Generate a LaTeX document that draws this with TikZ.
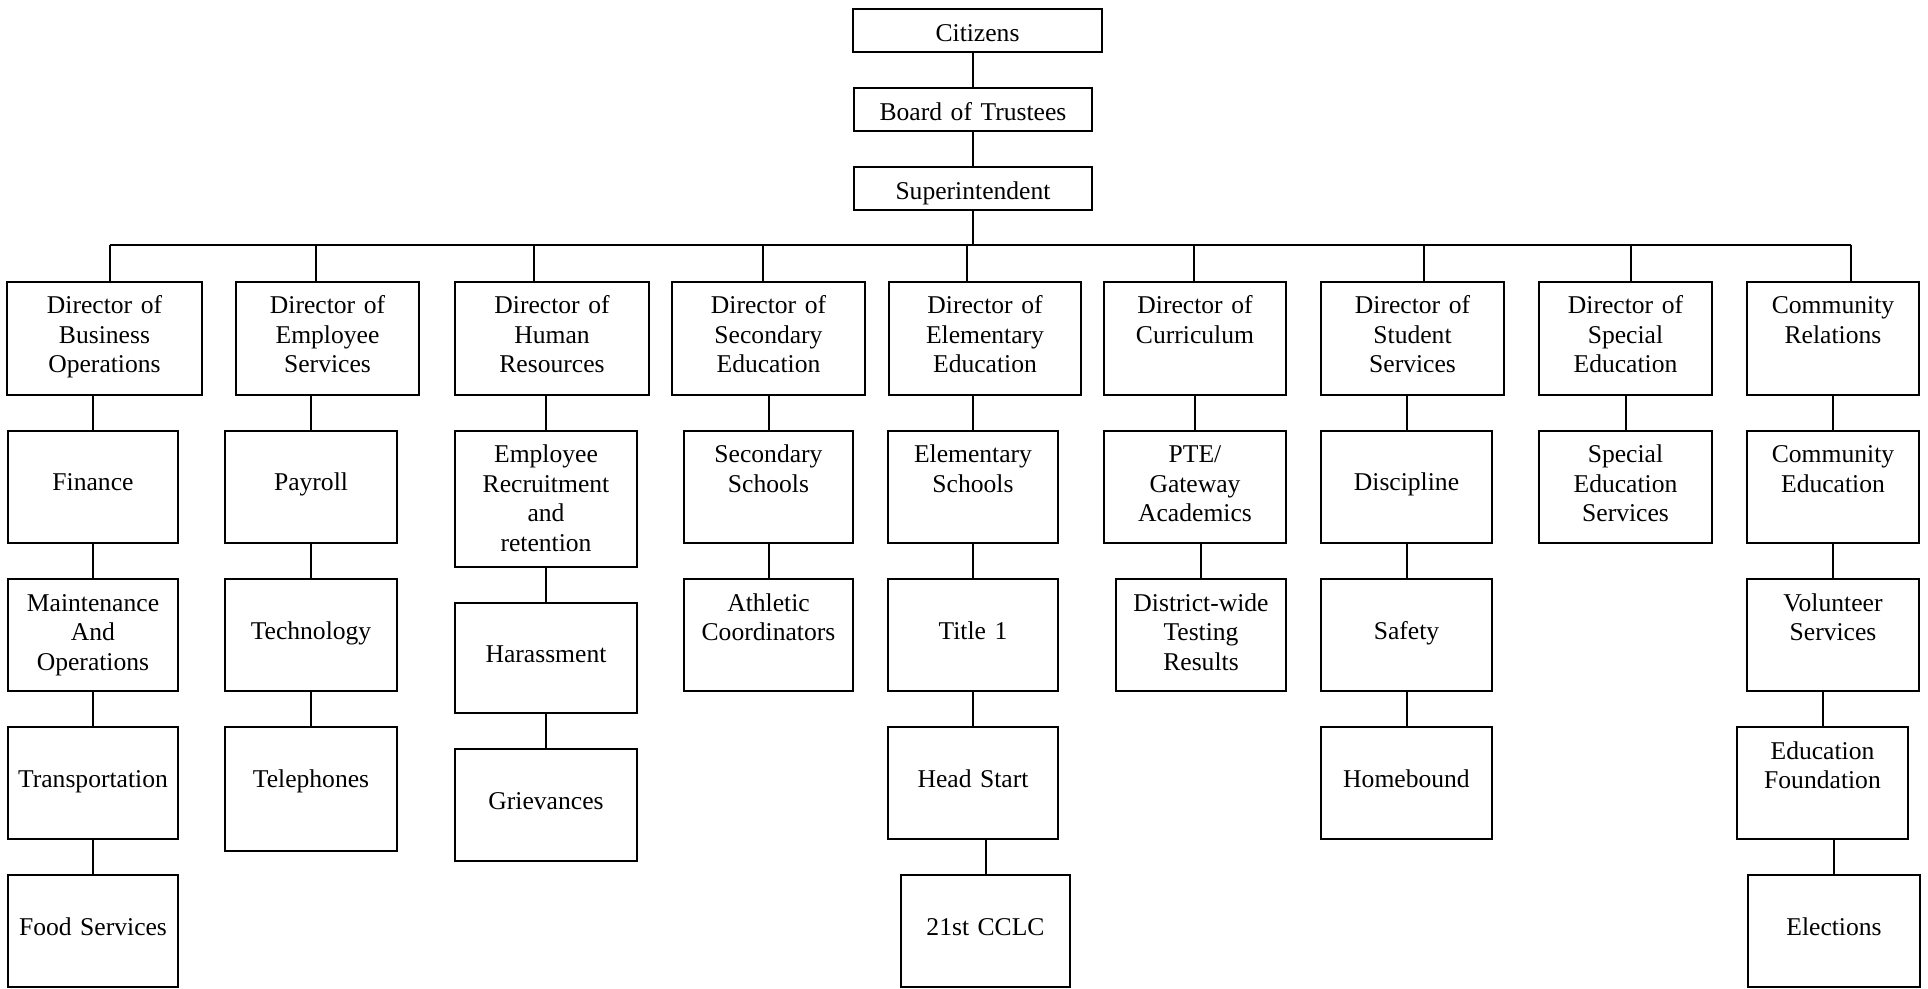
\documentclass[tikz,border=0pt]{standalone}
\usepackage{fontspec}
\setmainfont{Liberation Serif}
\usetikzlibrary{positioning}

\begin{document}
\begin{tikzpicture}[
  x=0.5pt,y=-0.5pt,
  node distance=18pt,
  unit/.style={draw,line width=1pt,align=center,inner xsep=2pt,inner ysep=0pt,
    outer sep=0pt,font=\fontsize{12.8}{14.75}\selectfont},
  topbox/.style={unit,text width=#1,text height=16.5pt,text depth=5pt},
  dir/.style={unit,text width=#1,text height=16pt,text depth=40.5pt},
  tall/.style={unit,text width=#1,text height=16pt,text depth=40pt},
  one/.style={unit,text width=#1,text height=30pt,text depth=26pt},
  link/.style={line width=1pt}
]
  \useasboundingbox (0,0) rectangle (1928,989);

  % top of the chart
  \node[topbox=120.5pt] (citizens) at (977.5,30.5) {Citizens};
  \node[topbox=115pt,below=of citizens,xshift=-2.25pt] (board) {Board of Trustees};
  \node[topbox=115pt,below=of board] (super) {Superintendent};

  % directors
  \node[dir=93.5pt,anchor=north] (d1) at (104.5,282) {Director of\\Business\\Operations};
  \node[dir=87.5pt,anchor=north] (d2) at (327.5,282) {Director of\\Employee\\Services};
  \node[dir=93pt,anchor=north] (d3) at (552,282) {Director of\\Human\\Resources};
  \node[dir=92.5pt,anchor=north] (d4) at (768.5,282) {Director of\\Secondary\\Education};
  \node[dir=92pt,anchor=north] (d5) at (985,282) {Director of\\Elementary\\Education};
  \node[dir=87pt,anchor=north] (d6) at (1195,282) {Director of\\Curriculum};
  \node[dir=87.5pt,anchor=north] (d7) at (1412.5,282) {Director of\\Student\\Services};
  \node[dir=82.5pt,anchor=north] (d8) at (1625.5,282) {Director of\\Special\\Education};
  \node[dir=82pt,anchor=north] (d9) at (1833,282) {Community\\Relations};

  % business operations
  \node[one=81pt,below=of d1,xshift=-5.75pt] (finance) {Finance};
  \node[tall=81pt,below=of finance] (upkeep) {Maintenance\\And\\Operations};
  \node[one=81pt,below=of upkeep] (transport) {Transportation};
  \node[one=81pt,below=of transport] (food) {Food Services};
  % employee services
  \node[one=82pt,below=of d2,xshift=-8.25pt] (payroll) {Payroll};
  \node[one=82pt,below=of payroll] (tech) {Technology};
  \node[one=82pt,below=of tech,text depth=32pt] (phones) {Telephones};
  % human resources
  \node[tall=87pt,below=of d3,xshift=-3pt,text depth=52pt] (recruit) {Employee\\Recruitment\\and\\retention};
  \node[one=87pt,below=of recruit,text height=29.5pt,text depth=25.5pt] (harass) {Harassment};
  \node[one=87pt,below=of harass] (grieve) {Grievances};
  % secondary education
  \node[tall=80.5pt,below=of d4] (secschools) {Secondary\\Schools};
  \node[tall=80.5pt,below=of secschools] (athletic) {Athletic\\Coordinators};
  % elementary education
  \node[tall=81pt,below=of d5,xshift=-6pt] (elemschools) {Elementary\\Schools};
  \node[one=81pt,below=of elemschools] (title) {Title 1};
  \node[one=81pt,below=of title] (headstart) {Head Start};
  \node[one=80.5pt,below=of headstart,xshift=6.25pt] (cclc) {21st CCLC};
  % curriculum
  \node[tall=87pt,below=of d6] (gateway) {PTE/\\Gateway\\Academics};
  \node[tall=81pt,below=of gateway,xshift=3pt] (testing) {District-wide\\Testing\\Results};
  % student services
  \node[one=81.5pt,below=of d7,xshift=-3pt] (discipline) {Discipline};
  \node[one=81.5pt,below=of discipline] (safety) {Safety};
  \node[one=81.5pt,below=of safety] (homebound) {Homebound};
  % special education
  \node[tall=82.5pt,below=of d8] (spedservices) {Special\\Education\\Services};
  % community relations
  \node[tall=82pt,below=of d9] (commedu) {Community\\Education};
  \node[tall=82pt,below=of commedu] (volunteer) {Volunteer\\Services};
  \node[tall=81.5pt,below=of volunteer,xshift=-5.25pt] (foundation) {Education\\Foundation};
  \node[one=82pt,below=of foundation,xshift=5.75pt] (elections) {Elections};

  % connectors
  \coordinate (bus) at (0,245);
  \draw[link] (board.north |- citizens.south) -- (board);
  \draw[link] (super.north |- board.south) -- (super);
  \draw[link] (super) -- (super |- bus);
  \draw[link] ([xshift=2.75pt]d1.north |- bus) -- ([xshift=9pt]d9.north |- bus);
  \foreach \i/\dx in {1/2.75,2/-5.75,3/-9,4/-2.75,5/-9,6/-.5,7/5.75,8/2.75,9/9}
    \draw[link] ([xshift=\dx pt]d\i.north |- bus) -- ([xshift=\dx pt]d\i.north);
  \foreach \a/\b in {d1/finance,finance/upkeep,upkeep/transport,transport/food,
      d2/payroll,payroll/tech,tech/phones,
      d3/recruit,recruit/harass,harass/grieve,
      d4/secschools,secschools/athletic,
      d5/elemschools,elemschools/title,title/headstart,headstart/cclc,
      d6/gateway,gateway/testing,
      d7/discipline,discipline/safety,safety/homebound,
      d8/spedservices,
      d9/commedu,commedu/volunteer,volunteer/foundation,foundation/elections}
    \draw[link] (\b.north |- \a.south) -- (\b.north);
\end{tikzpicture}
\end{document}
